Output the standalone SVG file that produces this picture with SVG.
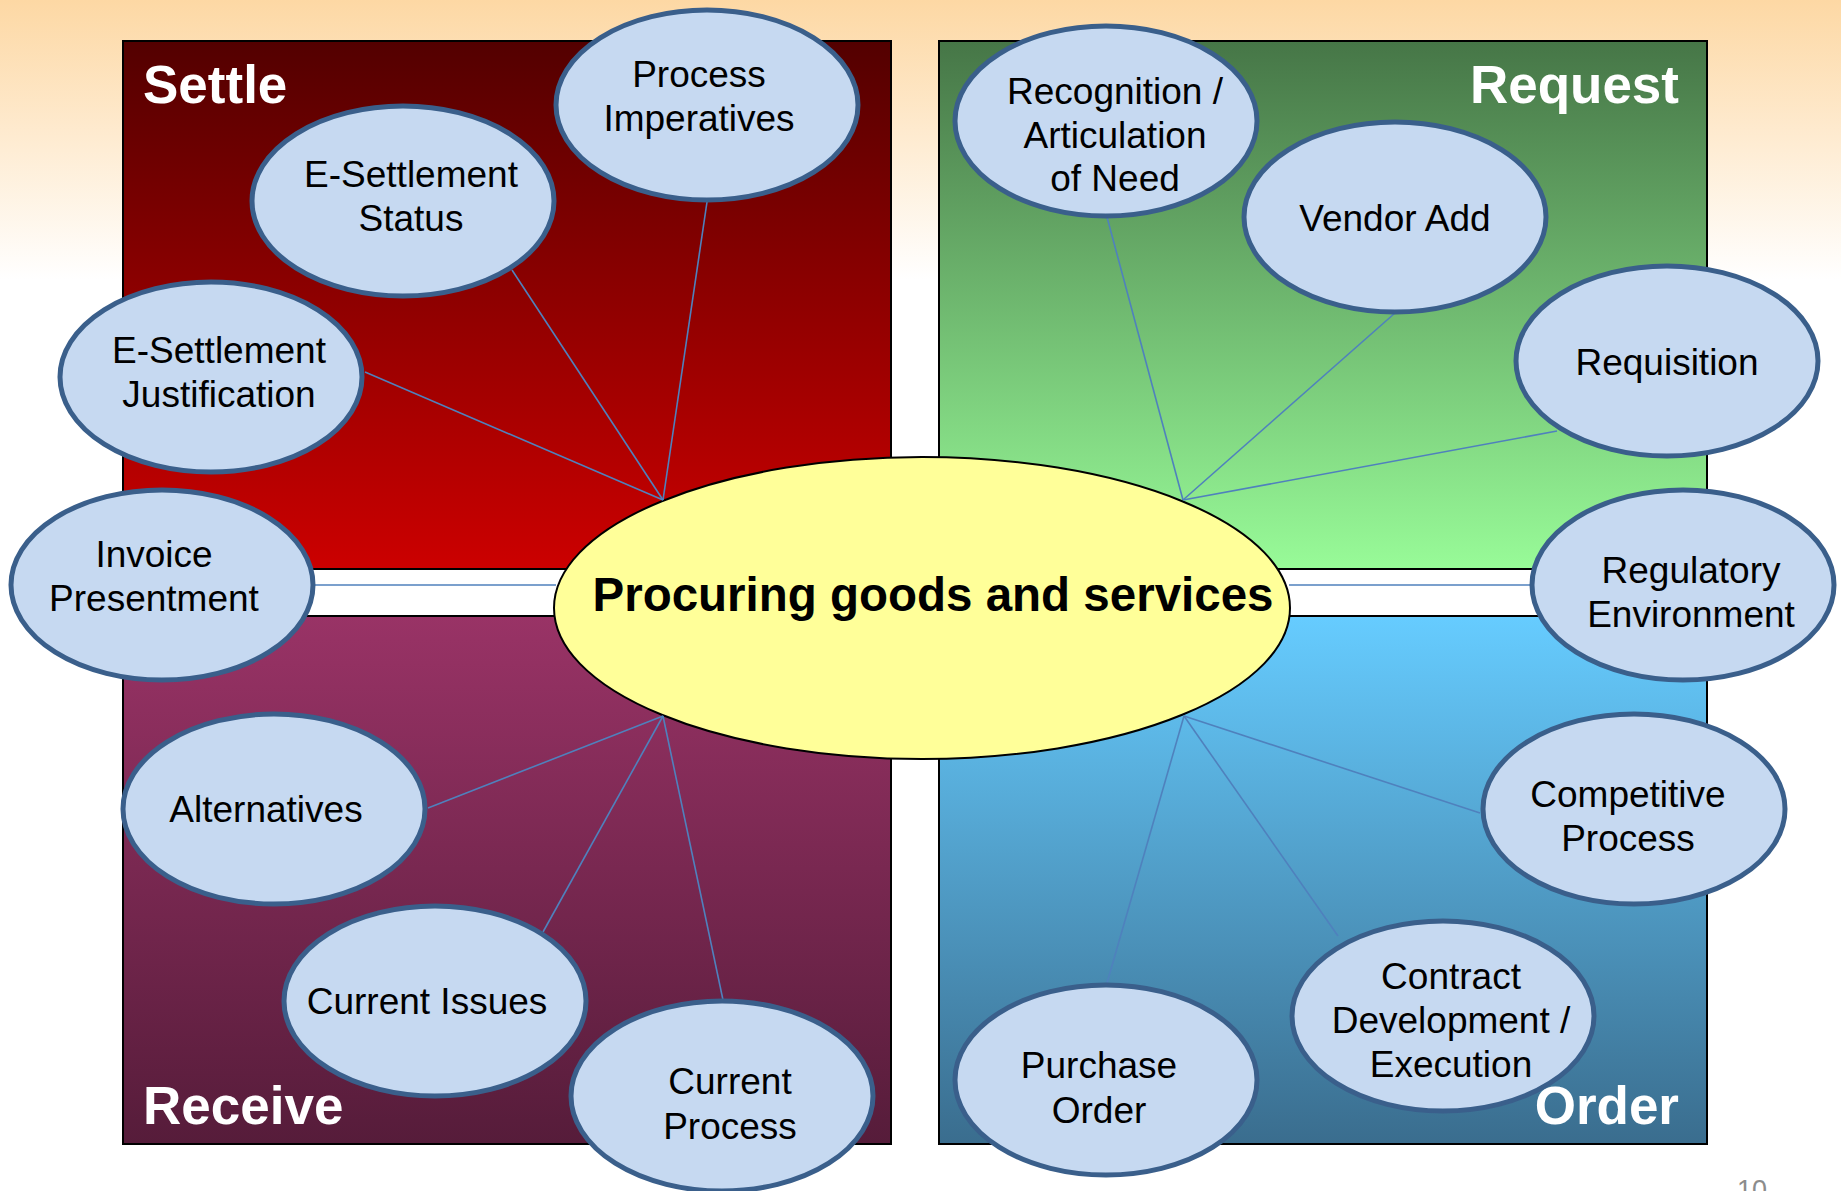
<svg xmlns="http://www.w3.org/2000/svg" width="1841" height="1191" viewBox="0 0 1841 1191">
<defs>
<linearGradient id="bg" x1="0" y1="0" x2="0" y2="1"><stop offset="0" stop-color="#FDD8A4"/><stop offset="1" stop-color="#FFFFFF"/></linearGradient>
<linearGradient id="gSettle" x1="0" y1="0" x2="0" y2="1"><stop offset="0" stop-color="#530000"/><stop offset="1" stop-color="#CC0000"/></linearGradient>
<linearGradient id="gRequest" x1="0" y1="0" x2="0" y2="1"><stop offset="0" stop-color="#467647"/><stop offset="1" stop-color="#98FB98"/></linearGradient>
<linearGradient id="gReceive" x1="0" y1="0" x2="0" y2="1"><stop offset="0" stop-color="#993366"/><stop offset="1" stop-color="#561C3A"/></linearGradient>
<linearGradient id="gOrder" x1="0" y1="0" x2="0" y2="1"><stop offset="0" stop-color="#66CCFF"/><stop offset="1" stop-color="#3A6D8E"/></linearGradient>
<style>
.quad{stroke:#000;stroke-width:2}
.title{font-family:"Liberation Sans",Arial,sans-serif;font-weight:bold;font-size:53px;fill:#fff}
.node ellipse{fill:#C6D9F1;stroke:#3A5F8B;stroke-width:5}
.node text{font-family:"Liberation Sans",Arial,sans-serif;font-size:37px;fill:#000;text-anchor:middle}
.conn line{stroke:#4F81BD;stroke-width:1.6}
.hub ellipse{fill:#FFFF99;stroke:#000;stroke-width:2}
.hub text{font-family:"Liberation Sans",Arial,sans-serif;font-weight:bold;font-size:47.5px;fill:#000;text-anchor:middle}
</style>
</defs>
<rect x="0" y="0" width="1841" height="280" fill="url(#bg)"/>
<g id="quadrants">
<rect class="quad" x="123" y="41" width="768" height="528" fill="url(#gSettle)"/>
<rect class="quad" x="939" y="41" width="768" height="528" fill="url(#gRequest)"/>
<rect class="quad" x="123" y="616" width="768" height="528" fill="url(#gReceive)"/>
<rect class="quad" x="939" y="616" width="768" height="528" fill="url(#gOrder)"/>
<text class="title" x="143" y="103">Settle</text>
<text class="title" x="1679" y="103" text-anchor="end">Request</text>
<text class="title" x="143" y="1124">Receive</text>
<text class="title" x="1679" y="1124" text-anchor="end">Order</text>
</g>
<g id="center" class="hub">
<ellipse cx="922" cy="608" rx="368" ry="151"/>
<text x="933" y="611">Procuring goods and services</text>
</g>
<g id="connectors" class="conn">
<line x1="707" y1="202" x2="663" y2="500"/>
<line x1="512" y1="270" x2="663" y2="500"/>
<line x1="365" y1="372" x2="663" y2="500"/>
<line x1="315" y1="585" x2="556" y2="585"/>
<line x1="428" y1="808" x2="663" y2="716"/>
<line x1="543" y1="932" x2="663" y2="716"/>
<line x1="723" y1="1000" x2="663" y2="716"/>
<line x1="1107" y1="217" x2="1183" y2="500"/>
<line x1="1395" y1="313" x2="1183" y2="500"/>
<line x1="1557" y1="431" x2="1183" y2="500"/>
<line x1="1289" y1="585" x2="1531" y2="585"/>
<line x1="1480" y1="813" x2="1184" y2="716"/>
<line x1="1338" y1="936" x2="1184" y2="716"/>
<line x1="1107" y1="983" x2="1184" y2="716"/>
</g>
<g id="n-process-imperatives" class="node"><ellipse cx="707" cy="105" rx="151" ry="95"/><text x="699" y="87">Process</text><text x="699" y="131">Imperatives</text></g>
<g id="n-esettlement-status" class="node"><ellipse cx="403" cy="201" rx="151" ry="95"/><text x="411" y="187">E-Settlement</text><text x="411" y="231">Status</text></g>
<g id="n-esettlement-justification" class="node"><ellipse cx="211" cy="377" rx="151" ry="95"/><text x="219" y="363">E-Settlement</text><text x="219" y="407">Justification</text></g>
<g id="n-invoice-presentment" class="node"><ellipse cx="162" cy="585" rx="151" ry="95"/><text x="154" y="567">Invoice</text><text x="154" y="611">Presentment</text></g>
<g id="n-alternatives" class="node"><ellipse cx="274" cy="809" rx="151" ry="95"/><text x="266" y="822">Alternatives</text></g>
<g id="n-current-issues" class="node"><ellipse cx="435" cy="1001" rx="151" ry="95"/><text x="427" y="1014">Current Issues</text></g>
<g id="n-current-process" class="node"><ellipse cx="722" cy="1096" rx="151" ry="95"/><text x="730" y="1094">Current</text><text x="730" y="1139">Process</text></g>
<g id="n-recognition" class="node"><ellipse cx="1106" cy="121" rx="151" ry="95"/><text x="1115" y="104">Recognition /</text><text x="1115" y="148">Articulation</text><text x="1115" y="191">of Need</text></g>
<g id="n-vendor-add" class="node"><ellipse cx="1395" cy="217" rx="151" ry="95"/><text x="1395" y="231">Vendor Add</text></g>
<g id="n-requisition" class="node"><ellipse cx="1667" cy="361" rx="151" ry="95"/><text x="1667" y="375">Requisition</text></g>
<g id="n-regulatory" class="node"><ellipse cx="1683" cy="585" rx="151" ry="95"/><text x="1691" y="583">Regulatory</text><text x="1691" y="627">Environment</text></g>
<g id="n-competitive" class="node"><ellipse cx="1634" cy="809" rx="151" ry="95"/><text x="1628" y="807">Competitive</text><text x="1628" y="851">Process</text></g>
<g id="n-contract" class="node"><ellipse cx="1443" cy="1016" rx="151" ry="95"/><text x="1451" y="989">Contract</text><text x="1451" y="1033">Development /</text><text x="1451" y="1077">Execution</text></g>
<g id="n-purchase-order" class="node"><ellipse cx="1106" cy="1080" rx="151" ry="95"/><text x="1099" y="1078">Purchase</text><text x="1099" y="1123">Order</text></g>
<text x="1737" y="1199" font-family="'Liberation Sans',Arial,sans-serif" font-size="27" fill="#8C8C8C">10</text>
</svg>
